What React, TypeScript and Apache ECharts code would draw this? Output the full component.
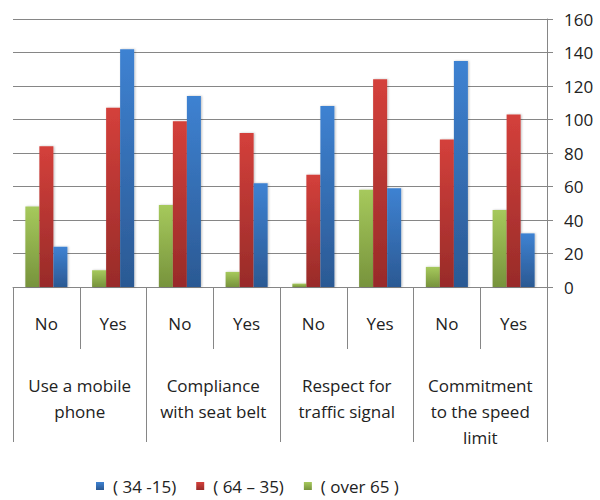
import React, { useEffect, useRef } from "react";
import * as echarts from "echarts";

const subCategories = ["No", "Yes", "No", "Yes", "No", "Yes", "No", "Yes"];
const groupCategories = [
  "Use a mobile\nphone",
  "Compliance\nwith seat belt",
  "Respect for\ntraffic signal",
  "Commitment\nto the speed\nlimit",
];
const seriesNames = ["( 34 -15)", "( 64 – 35)", "( over 65 )"];
const age34to15 = [24, 142, 114, 62, 108, 59, 135, 32];
const age64to35 = [84, 107, 99, 92, 67, 124, 88, 103];
const over65 = [48, 10, 49, 9, 2, 58, 12, 46];
const yMin = 0;
const yMax = 160;
const yStep = 20;

const FONT = "Open Sans";
const GRAY = "#868686";

function grad(top: string, bottom: string) {
  return {
    type: "linear",
    x: 0,
    y: 0,
    x2: 0,
    y2: 1,
    colorStops: [
      { offset: 0, color: top },
      { offset: 1, color: bottom },
    ],
  };
}

export default function App() {
  const ref = useRef<HTMLDivElement>(null);
  useEffect(() => {
    if (!ref.current) return;
    const chart = echarts.init(ref.current, undefined, { renderer: "svg" });
    const barStyle = (top: string, bottom: string) => ({
      color: grad(top, bottom),
      shadowBlur: 2,
      shadowOffsetX: 1,
      shadowOffsetY: 0,
      shadowColor: "rgba(0,0,0,0.25)",
    });
    chart.setOption({
      animation: false,
      backgroundColor: "#ffffff",
      grid: { left: 13, right: 53, top: 19, bottom: 213, containLabel: false },
      legend: {
        left: 96,
        top: 475,
        padding: 0,
        icon: "rect",
        itemWidth: 8,
        itemHeight: 8,
        itemGap: 20,
        data: seriesNames,
        textStyle: { fontFamily: FONT, fontSize: 17, lineHeight: 22, color: "#222", padding: [0, 0, 0, 4] },
      },
      xAxis: [
        {
          type: "category",
          data: subCategories,
          position: "bottom",
          axisLine: { show: true, lineStyle: { color: GRAY, width: 1 } },
          axisTick: { show: true, length: 62, interval: 0, lineStyle: { color: GRAY } },
          axisLabel: {
            interval: 0,
            margin: 26,
            fontFamily: FONT,
            fontSize: 17,
            lineHeight: 20,
            color: "#222",
          },
          splitLine: { show: false },
        },
        {
          type: "category",
          data: groupCategories,
          position: "bottom",
          axisLine: { show: false },
          axisTick: { show: true, length: 155, interval: 0, lineStyle: { color: GRAY } },
          axisLabel: {
            interval: 0,
            margin: 85,
            fontFamily: FONT,
            fontSize: 17,
            lineHeight: 26,
            color: "#222",
            align: "center",
          },
          splitLine: { show: false },
        },
      ],
      yAxis: {
        type: "value",
        position: "right",
        min: yMin,
        max: yMax,
        interval: yStep,
        axisLine: { show: true, lineStyle: { color: GRAY } },
        axisTick: { show: true, length: 6, lineStyle: { color: GRAY } },
        axisLabel: { margin: 17, fontFamily: FONT, fontSize: 17, color: "#222" },
        splitLine: { show: true, lineStyle: { color: GRAY, width: 1 } },
      },
      series: [
        {
          name: seriesNames[2],
          type: "bar",
          xAxisIndex: 0,
          data: over65,
          barGap: "0%",
          barCategoryGap: "37%",
          itemStyle: barStyle("#a6c95c", "#77933c"),
        },
        {
          name: seriesNames[1],
          type: "bar",
          xAxisIndex: 0,
          data: age64to35,
          barGap: "0%",
          barCategoryGap: "37%",
          itemStyle: barStyle("#d4403b", "#982b29"),
        },
        {
          name: seriesNames[0],
          type: "bar",
          xAxisIndex: 0,
          data: age34to15,
          barGap: "0%",
          barCategoryGap: "37%",
          itemStyle: barStyle("#3e82d2", "#2b5993"),
        },
      ],
    });
    return () => chart.dispose();
  }, []);
  return (
    <div
      ref={ref}
      style={{ position: "fixed", left: 0, top: 0, width: 600, height: 500 }}
    />
  );
}
